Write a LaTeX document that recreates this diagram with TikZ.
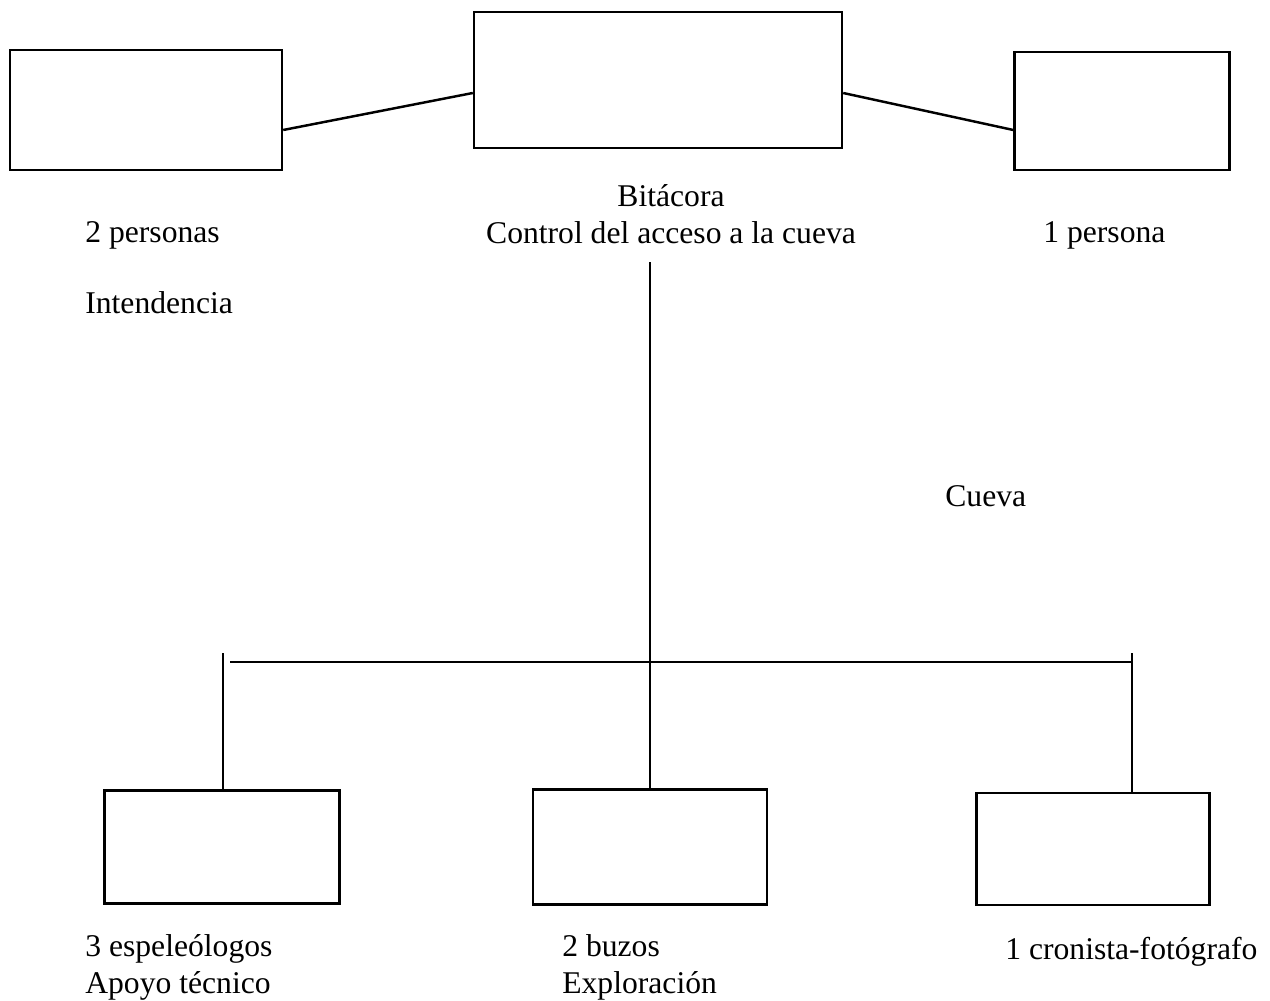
\documentclass[tikz,border=0pt]{standalone}
\usepackage{fontspec}
\setmainfont{Liberation Serif}
\begin{document}
\begin{tikzpicture}[x=0.02cm,y=-0.02cm,
  box/.style={draw,line width=1.4pt,minimum width=#1,inner sep=0pt},
  lbl/.style={font=\fontsize{18}{20.8}\selectfont,inner sep=0pt,align=left,anchor=base west},
  ln/.style={line width=1.4pt}]
\useasboundingbox (0,0) rectangle (1270,1000);
% top boxes
\node[box=5.44cm,minimum height=2.4cm] (tl) at (146,110) {};
\node[box=7.36cm,minimum height=2.72cm] (tc) at (658,80) {};
\node[box=4.3cm,minimum height=2.36cm] (tr) at (1122,111) {};
\draw[ln] ([yshift=-0.4cm]tl.east) -- ([yshift=-0.26cm]tc.west);
\draw[ln] ([yshift=-0.26cm]tc.east) -- ([yshift=-0.38cm]tr.west);
% top labels
\node[lbl] (l1) at (85,242) {2 personas};
\node[lbl,align=center,anchor=base] (l2) at (671,243) {Bitácora\\Control del acceso a la cueva};
\node[lbl] (l3) at (1043,242) {1 persona};
\node[lbl] (l4) at (85,313) {Intendencia};
\node[lbl] (l5) at (945,506) {Cueva};
% bottom boxes
\node[box=4.7cm,minimum height=2.26cm] (bl) at (222,847) {};
\node[box=4.68cm,minimum height=2.3cm] (bc) at (650,847) {};
\node[box=4.66cm,minimum height=2.24cm] (br) at (1093,849) {};
% connectors
\coordinate (top) at (650,262);
\coordinate (hl) at (230,662);
\coordinate (hr) at (1132,662);
\coordinate (tkl) at (223,653);
\coordinate (tkr) at (1132,653);
\draw[ln] (top) -- (bc.north);
\draw[ln] (hl) -- (hr);
\draw[ln] (tkl) -- (tkl |- bl.north);
\draw[ln] (tkr) -- (tkr |- br.north);
% bottom labels
\node[lbl] (b1) at (85,993) {3 espeleólogos\\Apoyo técnico};
\node[lbl] (b2) at (562,993) {2 buzos\\Exploración};
\node[lbl] (b3) at (1005,959) {1 cronista-fotógrafo};
\end{tikzpicture}
\end{document}
